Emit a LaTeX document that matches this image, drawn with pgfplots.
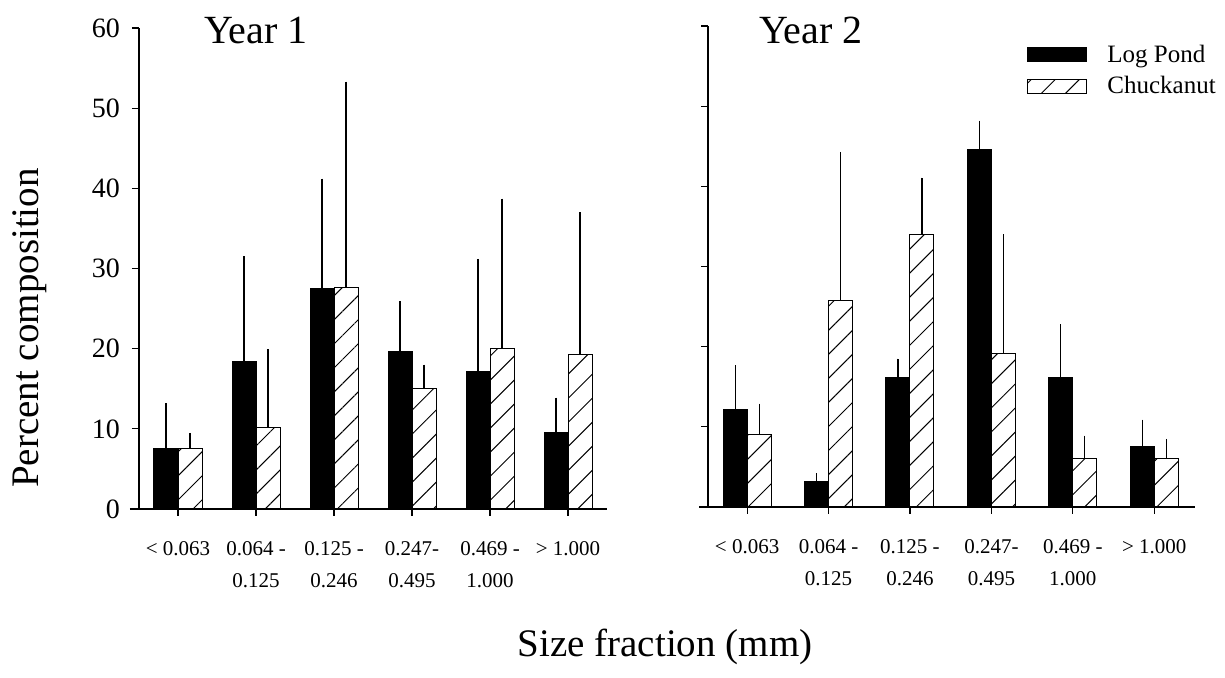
\documentclass[border=0pt]{standalone}
\usepackage{fontspec}
\setmainfont{Liberation Serif}
\usepackage{pgfplots}
\pgfplotsset{compat=1.18}
\usetikzlibrary{patterns.meta}

\pgfplotsset{
  panel/.style={
    scale only axis,
    height=240.5pt,
    anchor=south west,
    ybar=0pt, bar width=12pt,
    ymin=0, ymax=60,
    ytick={0,10,20,30,40,50,60},
    xtick={0,1,2,3,4,5},
    xticklabels={{< 0.063},{0.064 -\\0.125},{0.125 -\\0.246},{0.247-\\0.495},{0.469 -\\1.000},{> 1.000}},
    axis x line*=bottom, axis y line*=left,
    x axis line style={shorten <=-4.5pt},
    tick align=outside,
    major tick length=3.5pt,
    tick style={black, line width=0.6pt},
    axis line style={line width=0.7pt},
    /pgf/number format/assume math mode=true,
    yticklabel style={font=\fontsize{14}{16}\selectfont, xshift=-2.5pt},
    xticklabel style={font=\fontsize{10.5}{16}\selectfont, align=center, yshift=-9pt},
    legend image code/.code={\draw[#1] (0pt,-3.5pt) rectangle (29.5pt,3.5pt); \path (37.5pt,0pt);},
  },
  logpond/.style={fill=black, draw=black, line width=0.5pt,
    error bars/.cd, y dir=plus, y explicit, error mark=none,
    error bar style={black, line width=0.6pt}},
  chuck/.style={fill=white, draw=black, line width=0.5pt,
    postaction={pattern={Lines[angle=45,distance=8.5pt,line width=0.5pt]}},
    error bars/.cd, y dir=plus, y explicit, error mark=none,
    error bar style={black, line width=0.6pt}},
}

\begin{document}
\begin{tikzpicture}
\useasboundingbox (-69.5pt,-84.5pt) rectangle (543pt,254.5pt);

% Year 1
\begin{axis}[panel, at={(0pt,0pt)}, width=234pt, xmin=-0.5, xmax=5.5]
\addplot[logpond] coordinates {
  (0,7.6)  +- (0,5.6)
  (1,18.4) +- (0,13.1)
  (2,27.5) +- (0,13.7)
  (3,19.7) +- (0,6.2)
  (4,17.2) +- (0,14.0)
  (5,9.5)  +- (0,4.4)
};
\addplot[chuck] coordinates {
  (0,7.6)  +- (0,1.9)
  (1,10.2) +- (0,9.7)
  (2,27.6) +- (0,25.7)
  (3,15.0) +- (0,3.0)
  (4,20.0) +- (0,18.7)
  (5,19.3) +- (0,17.7)
};
\end{axis}

% Year 2
\begin{axis}[panel, at={(284.5pt,1pt)}, width=243.5pt, xmin=-0.48, xmax=5.5,
  yticklabels={},
  legend cell align=left,
  legend style={at={(0.655,0.97)}, anchor=north west, draw=none, fill=none,
    font=\fontsize{12.5}{14}\selectfont, row sep=1.5pt, inner sep=0pt}]
\addplot[logpond] coordinates {
  (0,12.2) +- (0,5.5)
  (1,3.2)  +- (0,1.0)
  (2,16.2) +- (0,2.3)
  (3,44.6) +- (0,3.6)
  (4,16.2) +- (0,6.6)
  (5,7.5)  +- (0,3.4)
};
\addlegendentry{Log Pond}
\addplot[chuck] coordinates {
  (0,9.0)  +- (0,3.9)
  (1,25.8) +- (0,18.5)
  (2,34.0) +- (0,7.1)
  (3,19.1) +- (0,14.9)
  (4,6.0)  +- (0,2.9)
  (5,6.0)  +- (0,2.5)
};
\addlegendentry{Chuckanut}
\end{axis}

\node[anchor=base west, font=\fontsize{20}{24}\selectfont] at (29pt,232.5pt) {Year 1};
\node[anchor=base west, font=\fontsize{20}{24}\selectfont] at (306.5pt,232.5pt) {Year 2};
\node[anchor=base, font=\fontsize{19.5}{22}\selectfont] at (263pt,-74pt) {Size fraction (mm)};
\node[rotate=90, anchor=center, font=\fontsize{19.5}{22}\selectfont] at (-54.5pt,90.5pt) {Percent composition};
\end{tikzpicture}
\end{document}
